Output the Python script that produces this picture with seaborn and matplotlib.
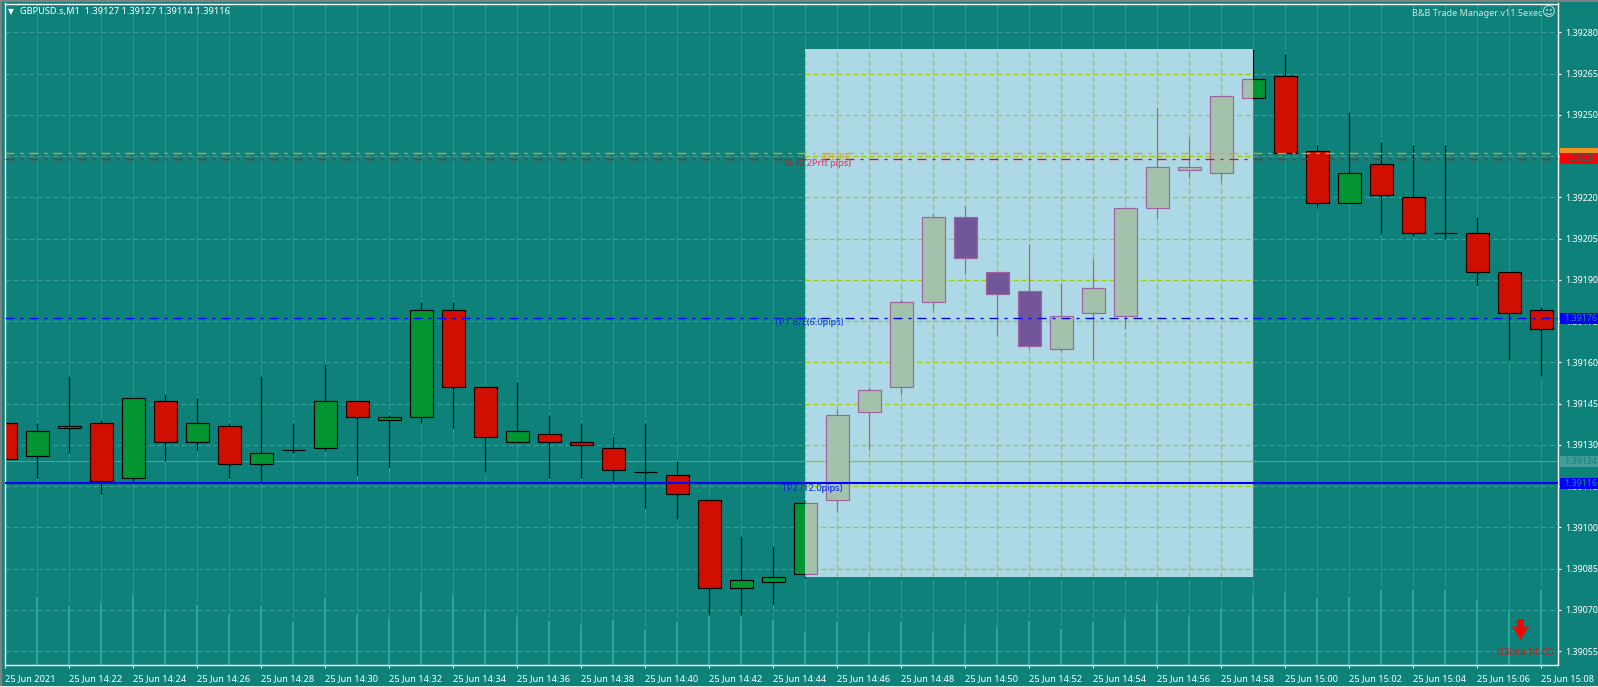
import matplotlib
matplotlib.use("Agg")
import numpy as np
import pandas as pd
import seaborn as sns
import matplotlib.pyplot as plt
from matplotlib.patches import Rectangle
from matplotlib.path import Path

sns.set_theme(style="ticks")
plt.rcParams["font.family"] = ["Noto Sans", "DejaVu Sans"]
plt.rcParams["lines.scale_dashes"] = False

# ---- data -------------------------------------------------------------
opens = [1.39138,1.39126,1.39136,1.39138,1.39118,1.39146,1.39131,1.39137,1.39123,1.39128,
         1.39129,1.39146,1.39139,1.39140,1.39179,1.39151,1.39131,1.39134,1.39131,1.39129,
         1.39120,1.39119,1.39110,1.39078,1.39080,1.39083,1.39110,1.39142,1.39151,1.39182,
         1.39213,1.39193,1.39186,1.39165,1.39178,1.39177,1.39216,1.39230,1.39229,1.39256,
         1.39264,1.39237,1.39218,1.39232,1.39220,1.39207,1.39207,1.39193,1.39179]
highs = [1.39155,1.39138,1.39155,1.39139,1.39147,1.39148,1.39147,1.39138,1.39155,1.39138,
         1.39159,1.39146,1.39141,1.39182,1.39182,1.39151,1.39153,1.39141,1.39138,1.39133,
         1.39138,1.39124,1.39110,1.39097,1.39093,1.39110,1.39143,1.39151,1.39183,1.39214,
         1.39217,1.39193,1.39203,1.39189,1.39198,1.39216,1.39253,1.39242,1.39257,1.39274,
         1.39272,1.39239,1.39251,1.39240,1.39239,1.39239,1.39213,1.39193,1.39180]
lows  = [1.39125,1.39118,1.39127,1.39112,1.39117,1.39124,1.39128,1.39118,1.39117,1.39127,
         1.39128,1.39119,1.39122,1.39138,1.39136,1.39120,1.39131,1.39118,1.39118,1.39117,
         1.39107,1.39103,1.39068,1.39068,1.39072,1.39082,1.39106,1.39128,1.39148,1.39179,
         1.39192,1.39170,1.39165,1.39164,1.39161,1.39172,1.39212,1.39227,1.39226,1.39256,
         1.39236,1.39216,1.39218,1.39207,1.39206,1.39205,1.39188,1.39161,1.39155]
closes = [1.39125,1.39135,1.39137,1.39117,1.39147,1.39131,1.39138,1.39123,1.39127,1.39128,
          1.39146,1.39140,1.39140,1.39179,1.39151,1.39133,1.39135,1.39131,1.39130,1.39121,
          1.39120,1.39112,1.39078,1.39081,1.39082,1.39109,1.39141,1.39150,1.39182,1.39213,
          1.39198,1.39185,1.39166,1.39177,1.39187,1.39216,1.39231,1.39231,1.39257,1.39263,
          1.39236,1.39218,1.39229,1.39221,1.39207,1.39207,1.39193,1.39178,1.39172]
volumes = [60,68,58,62,70,55,60,50,58,42,66,50,46,72,70,55,48,44,40,45,35,42,50,48,45,
           33,43,32,43,32,40,38,44,36,42,46,62,48,56,70,72,66,68,74,74,74,65,55,74]
minutes = np.arange(len(opens))

price_ticks = [1.39280,1.39265,1.39250,1.39235,1.39220,1.39205,1.39190,1.39175,
               1.39160,1.39145,1.39130,1.39115,1.39100,1.39085,1.39070,1.39055]
time_ticks = list(range(0, 49, 2))
time_labels = ["25 Jun 2021"] + [f"25 Jun {14 + (20 + m) // 60}:{(20 + m) % 60:02d}" for m in time_ticks[1:]]

box_start, box_end, box_high, box_low = 25, 39, 1.39274, 1.39082
level_be, level_sl, level_tp1, level_tp2, level_bid = 1.39236, 1.39234, 1.39176, 1.39116, 1.39124
arrow_minute, arrow_price = 47.34, 1.39063

# ---- colours ----------------------------------------------------------
BG = "#0E827A"; GRID = "#3F9E98"; BOXC = "#ADD8E6"; BOXGRID = "#9CCC00"
UP = "#049533"; DOWN = "#D00F00"; UP_B = "#A3C2AC"; DOWN_B = "#72569A"; EDGE_B = "#A0639F"
VOL = "#26A9A1"

W, H = 1598, 687
fig = plt.figure(figsize=(W / 100, H / 100), dpi=100, facecolor=BG)
L, R, T, B = 4.7, 1558.0, 3.5, 665.0
pos = [L / W, 1 - B / H, (R - L) / W, (B - T) / H]

xlim = (-0.01, (R - 5) / 32)
ylim = (1.39000 + 50.0e-5, 1.39000 + 290.5e-5)

# volume lines underneath
vax = fig.add_axes(pos)
sns.barplot(x=minutes, y=volumes, native_scale=True, width=1.3 / 32, color=VOL, saturation=1,
            linewidth=0, edgecolor="none", ax=vax)
vax.set_xlim(xlim); vax.set_ylim(0, B - T)
vax.axis("off")

ax = fig.add_axes(pos, facecolor="none")
ax.set_xlim(xlim); ax.set_ylim(ylim)

PX = 0.72
grid_ls = (0, (3.6, 2.16))
lvl_ls = (0, (6.48, 4.32, 2.16, 4.32))

# grid outside the box
for p in price_ticks:
    ax.axhline(p, color=GRID, lw=PX, ls=grid_ls, zorder=0.5)
for m in minutes:
    ax.axvline(m, color=GRID, lw=PX, ls=grid_ls, zorder=0.5)
ax.axhline(level_bid, color="#4CA59F", lw=PX, zorder=0.6)

o, h, l, c = map(np.array, (opens, highs, lows, closes))
tops = np.maximum(o, c); bots = np.minimum(o, c)
bw = 23 / 32

def candles(up, down, edge, wick, z, clip=None):
    cols = [up if cc >= oo else down for oo, cc in zip(o, c)]
    lines = ax.vlines(minutes, l, h, color=wick, lw=0.85, zorder=z)
    bars = ax.bar(minutes, tops - bots, bottom=bots, width=bw, color=cols, edgecolor=edge,
                  linewidth=0.85, zorder=z + 0.1)
    if clip is not None:
        lines.set_clip_path(clip)
        for b in bars:
            b.set_clip_path(clip)

candles(UP, DOWN, "black", "black", 1)

# the highlighted box, over the plain layer
box = Rectangle((box_start, box_low), box_end - box_start, box_high - box_low,
                facecolor=BOXC, edgecolor="none", zorder=2)
ax.add_patch(box)

for p in price_ticks:
    ln = ax.axhline(p, color=BOXGRID, lw=PX * 1.2, ls=grid_ls, zorder=2.5)
    ln.set_clip_path(box)
for m in minutes:
    ln = ax.axvline(m, color=BOXGRID, lw=PX * 1.2, ls=grid_ls, zorder=2.5)
    ln.set_clip_path(box)
ln = ax.axhline(level_bid, color="#8FC31F", lw=PX * 1.2, zorder=2.6)
ln.set_clip_path(box)

candles(UP_B, DOWN_B, EDGE_B, EDGE_B, 3, clip=box)

# level lines
ax.axhline(level_be, color="#F7941D", lw=0.95, ls=lvl_ls, zorder=6)
ax.axhline(level_sl, color="#FF0000", lw=0.95, ls=lvl_ls, zorder=6)
ax.axhline(level_tp1, color="#0000FF", lw=0.95, ls=lvl_ls, zorder=6)
ax.axhline(level_tp2, color="#0000FF", lw=1.5, zorder=6)

# axes furniture
for s in ax.spines.values():
    s.set_color("white"); s.set_linewidth(1.0)
ax.yaxis.tick_right()
ax.set_yticks(price_ticks)
ax.set_yticklabels([f"{p:.5f}" for p in price_ticks], color="white", fontsize=6.4)
ax.set_xticks(time_ticks)
ax.set_xticklabels(time_labels, color="white", fontsize=6.6, ha="left")
ax.tick_params(axis="both", color="white", length=2.5, width=0.8, pad=2.5)
ax.tick_params(axis="x", pad=4)
ax.grid(False)

# price tags on the right edge
ytrans = ax.get_yaxis_transform()
tag_x0 = 1 + 2 / (R - L); tag_w = 40 / (R - L)
for price, fc, tc, z in [(level_be, "#F7941D", "#C89A3A", 9),
                         (level_sl, "#FF0000", "#0E6F70", 10),
                         (level_tp1, "#0000FF", "#1E8C86", 10),
                         (level_tp2, "#0000FF", "#1E8C86", 10),
                         (level_bid, "#3F9C96", "#1A7F78", 10)]:
    ax.add_patch(Rectangle((tag_x0, price - 2.0e-5), tag_w, 4.0e-5, transform=ytrans,
                           facecolor=fc, edgecolor="none", clip_on=False, zorder=z))
    ax.text(1 + 6.7 / (R - L), price, f"{price:.5f}", transform=ytrans, color=tc, fontsize=6.4,
            va="center", ha="left", zorder=z + 0.5, clip_on=False)

# labels on the levels: one colour on teal, another inside the box
def two_tone(x, price, txt, c_out, c_in):
    t1 = ax.text(x, price, txt, color=c_out, fontsize=6.6, va="center", ha="left", zorder=7)
    t2 = ax.text(x, price, txt, color=c_in, fontsize=6.6, va="center", ha="left", zorder=7.1)
    t2.set_clip_on(True); t2.set_clip_path(box)

two_tone(24.34, 1.392325, "SL (0.2Prft pips)", "#C81414", "#E8609E")
two_tone(24.03, 1.391745, "TP1 B/E(6.0pips)", "#0A2FC8", "#2F6BEF")
two_tone(24.28, 1.39114, "TP2 (12.0pips)", "#0A2FC8", "#2F4FEF")
ax.text(25.55, 1.392345, "B/E(0)", color="#E8A020", fontsize=6.6, va="center", ha="left", zorder=5.5)

# header and corner texts
fig.text(20 / W, 1 - 11.7 / H, "GBPUSD.s,M1  1.39127 1.39127 1.39114 1.39116", color="white",
         fontsize=6.65, va="center", ha="left")
fig.text(8 / W, 1 - 11.7 / H, "\u25BC", color="white", fontsize=5.5, va="center", ha="left",
         family="DejaVu Sans")
fig.text(1412 / W, 1 - 13 / H, "B&B Trade Manager.v11.5exec", color="#CFE6E3", fontsize=6.5,
         va="center", ha="left")
fig.text(1541.5 / W, 1 - 13 / H, "\u263A", color="#CFE6E3", fontsize=9.5, va="center", ha="left",
         family="DejaVu Sans")
ax.text(arrow_minute + 1.03, 1.390544, "(15min 14:45)", color="#C01818", fontsize=6.3,
        va="center", ha="right", zorder=7)

arrow = Path([(-0.33, 1), (0.33, 1), (0.33, 0.15), (0.85, 0.43), (0, -1), (-0.85, 0.43), (-0.33, 0.15), (-0.33, 1)],
             closed=True)
ax.scatter([arrow_minute], [arrow_price], marker=arrow, s=225, color="#FF0000", linewidths=0, zorder=7)

# window border strips
fig.add_artist(Rectangle((0, 1 - 1.5 / H), 1, 1.5 / H, transform=fig.transFigure, color="#808080", lw=0))
fig.add_artist(Rectangle((0, 0), 1.5 / W, 1, transform=fig.transFigure, color="#808080", lw=0))
fig.add_artist(Rectangle((0, 0), 1, 1.5 / H, transform=fig.transFigure, color="#E8E8E8", lw=0))

fig.savefig("out.png", dpi=100, facecolor=BG)
